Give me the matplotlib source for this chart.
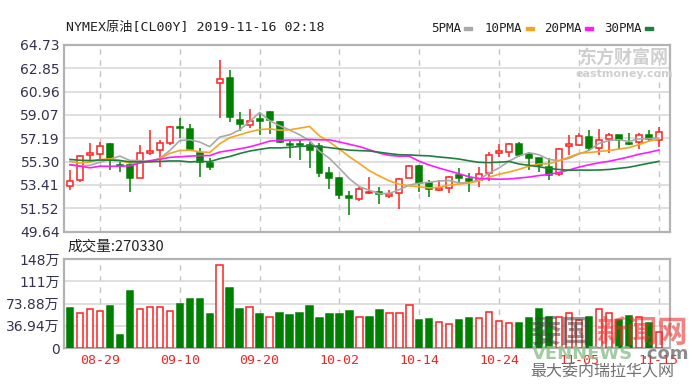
import numpy as np
import pandas as pd
import matplotlib
matplotlib.use('Agg')
import matplotlib.pyplot as plt
from matplotlib.patches import Rectangle

# ---------------------------------------------------------------
# data (NYMEX crude, daily, 2019-08-26 .. 2019-11-15)
dates = ['08-26', '08-27', '08-28', '08-29', '08-30', '09-02', '09-03', '09-04',
         '09-05', '09-06', '09-09', '09-10', '09-11', '09-12', '09-13', '09-16',
         '09-17', '09-18', '09-19', '09-20', '09-23', '09-24', '09-25', '09-26',
         '09-27', '09-30', '10-01', '10-02', '10-03', '10-04', '10-07', '10-08',
         '10-09', '10-10', '10-11', '10-14', '10-15', '10-16', '10-17', '10-18',
         '10-21', '10-22', '10-23', '10-24', '10-25', '10-28', '10-29', '10-30',
         '10-31', '11-01', '11-04', '11-05', '11-06', '11-07', '11-08', '11-11',
         '11-12', '11-13', '11-14', '11-15']

open_p = [53.30, 53.80, 55.85, 55.90, 56.72, 55.06, 55.02, 53.99, 55.96, 56.23,
          56.77, 58.13, 57.93, 55.96, 55.15, 61.63, 62.03, 58.66, 58.25, 58.71,
          59.33, 58.47, 56.70, 56.70, 56.63, 56.55, 54.34, 53.94, 52.51, 52.24,
          52.72, 52.86, 52.51, 52.78, 53.99, 54.94, 53.53, 52.99, 53.13, 54.21,
          53.88, 53.80, 54.34, 56.02, 56.10, 56.69, 55.88, 55.56, 54.88, 54.26,
          56.58, 56.63, 57.31, 56.42, 57.12, 57.45, 56.77, 56.90, 57.45, 57.04]
high_p = [54.61, 55.80, 56.82, 56.90, 56.82, 55.30, 55.42, 56.63, 57.85, 57.04,
          58.20, 58.85, 58.36, 56.37, 55.56, 63.52, 62.71, 59.33, 59.55, 59.20,
          59.41, 58.58, 56.96, 57.04, 56.90, 56.77, 54.88, 54.02, 52.91, 53.26,
          54.05, 53.26, 52.99, 53.94, 55.02, 55.02, 53.80, 53.80, 54.15, 54.75,
          54.34, 54.88, 56.04, 56.69, 56.82, 56.90, 56.04, 55.61, 55.56, 56.37,
          57.45, 57.58, 57.85, 57.93, 57.58, 57.45, 57.64, 57.58, 57.85, 58.12]
low_p = [52.99, 53.65, 55.29, 55.42, 54.61, 54.42, 52.86, 53.93, 55.83, 54.88,
         56.63, 57.23, 56.15, 54.02, 54.61, 58.85, 58.52, 57.77, 58.04, 57.45,
         57.50, 56.77, 55.56, 55.42, 54.80, 54.07, 53.05, 52.24, 50.97, 52.10,
         52.67, 51.83, 52.37, 51.43, 53.94, 52.86, 52.45, 52.91, 52.72, 53.53,
         52.86, 53.26, 53.72, 55.69, 55.69, 55.69, 54.61, 54.42, 53.80, 54.15,
         55.83, 56.55, 56.15, 55.83, 56.00, 56.31, 56.63, 56.31, 56.85, 56.50]
close_p = [53.72, 55.75, 56.00, 56.58, 55.42, 54.96, 53.99, 55.96, 56.15, 56.77,
           58.07, 58.02, 56.31, 55.23, 54.88, 61.98, 58.93, 58.31, 58.58, 58.55,
           58.66, 56.90, 56.63, 56.60, 56.23, 54.34, 53.99, 52.59, 52.37, 53.05,
           52.86, 52.64, 52.70, 53.86, 54.94, 53.59, 53.05, 53.18, 54.07, 53.94,
           53.72, 54.29, 55.83, 56.15, 56.69, 55.83, 55.56, 55.02, 54.21, 56.28,
           56.69, 57.39, 56.42, 57.04, 57.45, 57.04, 56.69, 57.45, 57.12, 57.72]
# closes before the window, only used to start the moving averages
prior_close = [57.62, 56.78, 55.30, 55.63, 56.22, 56.77, 55.88, 56.02, 56.20, 56.87,
               58.05, 58.58, 53.95, 55.66, 54.69, 53.63, 51.09, 52.54, 54.50, 54.93,
               57.10, 55.23, 54.47, 54.87, 56.21, 56.34, 55.68, 55.35, 54.17]
# volume in 万 (10k contracts)
volume = [66.9, 58.6, 64.7, 60.9, 69.2, 22.1, 95.1, 64.7, 68.6, 68.6,
          60.9, 73.6, 81.9, 81.9, 55.9, 138.3, 99.1, 64.7, 68.6, 55.9,
          51.5, 58.6, 54.2, 58.6, 69.2, 49.8, 55.9, 55.9, 60.9, 51.5,
          52.0, 62.5, 58.6, 58.6, 70.8, 45.9, 47.6, 43.2, 40.4, 45.9,
          49.8, 49.2, 60.3, 45.4, 41.0, 41.0, 49.2, 64.2, 50.9, 50.9,
          57.6, 46.5, 50.9, 64.2, 57.6, 46.5, 53.1, 50.9, 41.0, 27.033]

price_ticks = [49.64, 51.52, 53.41, 55.30, 57.19, 59.07, 60.96, 62.85, 64.73]
price_labels = ['49.64', '51.52', '53.41', '55.30', '57.19', '59.07', '60.96', '62.85', '64.73']
vol_ticks = [0, 36.94, 73.88, 110.82, 147.76]
vol_labels = ['0', '36.94万', '73.88万', '111万', '148万']
ma_names = ['5PMA', '10PMA', '20PMA', '30PMA']
ma_windows = [5, 10, 20, 30]
ma_colors = ['#a9a9a9', '#f7a520', '#ff1aff', '#1f7f3f']

RED = '#ff2020'
GREEN = '#008000'
GRID = '#d9d9d9'
FRAME = '#b3b3b3'
LABEL = '#333350'

W, H = 698, 385
n = len(close_p)
x = np.arange(n)

fig = plt.figure(figsize=(W / 100, H / 100), dpi=100)
fig.patch.set_facecolor('white')

def px(x0, y0, x1, y1):
    return [x0 / W, 1 - y1 / H, (x1 - x0) / W, (y1 - y0) / H]

ax = fig.add_axes(px(64, 45, 670, 231.5))
axv = fig.add_axes(px(64, 259, 670, 348))

label_idx = list(range(3, n, 8))

for a in (ax, axv):
    a.set_xlim(-0.6, 60.12)
    for s in a.spines.values():
        s.set_color(FRAME)
        s.set_linewidth(1.6)
    for i in label_idx:
        a.axvline(i, color='#c4c4c4', lw=1, ls=(0, (4, 4)), zorder=0)
    a.tick_params(length=0)

# ---- price panel
ax.set_ylim(price_ticks[0], price_ticks[-1])
ax.set_yticks(price_ticks)
ax.set_yticklabels(price_labels, fontsize=10, color=LABEL, family='DejaVu Sans')
ax.tick_params(axis='y', pad=3)
ax.set_xticks([])
for t in price_ticks[1:-1]:
    ax.axhline(t, color=GRID, lw=1.2, zorder=0)

for i in range(n):
    o, h, l, c = open_p[i], high_p[i], low_p[i], close_p[i]
    up = c >= o
    col = RED if up else GREEN
    ax.vlines(i, l, h, color=col, lw=1.1, zorder=2)
    bh = max(abs(c - o), 0.04)
    ax.add_patch(Rectangle((i - 0.3, min(o, c)), 0.6, bh,
                           facecolor='white' if up else GREEN,
                           edgecolor=col, lw=1.1, zorder=3))

# moving averages
allc = pd.Series(prior_close + close_p)
for name, win, col in zip(ma_names, ma_windows, ma_colors):
    ma = allc.rolling(win).mean().iloc[-n:].values
    ax.plot(x, ma, color=col, lw=1.2, zorder=4)

# ---- volume panel
axv.set_ylim(vol_ticks[0], vol_ticks[-1])
axv.set_yticks(vol_ticks)
axv.set_yticklabels(vol_labels, fontsize=10, color=LABEL,
                    family=['DejaVu Sans', 'Noto Sans CJK SC'])
axv.tick_params(axis='y', pad=3)
for t in vol_ticks[1:-1]:
    axv.axhline(t, color=GRID, lw=1.2, zorder=0)

prev = prior_close[-1]
for i in range(n):
    up = close_p[i] >= prev
    prev = close_p[i]
    col = RED if up else GREEN
    axv.add_patch(Rectangle((i - 0.32, 0), 0.64, volume[i],
                            facecolor='white' if up else GREEN,
                            edgecolor=col, lw=1.1, zorder=3))

axv.set_xticks(label_idx)
axv.set_xticklabels([dates[i] for i in label_idx], fontsize=9.5, color=RED,
                    family='DejaVu Sans Mono')
axv.tick_params(axis='x', pad=4)

# ---- texts
mono = ['DejaVu Sans Mono', 'Noto Sans CJK SC']
fig.text(66 / W, 1 - 28 / H, 'NYMEX原油[CL00Y] 2019-11-16 02:18', family=mono,
         fontsize=9.5, color='#222222', va='center')

leg_x = [431, 485, 544, 604]
for name, lx, col in zip(ma_names, leg_x, ma_colors):
    t = fig.text(lx / W, 1 - 28 / H, name, family='DejaVu Sans Mono',
                 fontsize=9, color='#222222', va='center')
    tw = len(name) * 7.6
    fig.patches.append(Rectangle(((lx + tw + 3) / W, 1 - 30 / H), 8 / W, 3 / H,
                                 transform=fig.transFigure, color=col))

fig.text(67 / W, 1 - 247 / H, '成交量:270330', family=['Noto Sans CJK SC', 'DejaVu Sans'],
         fontsize=10.5, color='#222222', va='center')

# watermarks
fig.text(624 / W, 1 - 57 / H, '东方财富网', family='Noto Sans CJK SC', fontsize=13,
         fontweight='bold', color='#cfcfcf', ha='center', va='center')
fig.text(624 / W, 1 - 74 / H, 'eastmoney.com', family='DejaVu Sans', fontsize=8,
         fontweight='bold', color='#cfcfcf', ha='center', va='center')

fig.text(530 / W, 1 - 333 / H, '委国', family='Noto Sans CJK SC', fontsize=22,
         fontweight='bold', color='#404040', alpha=0.55, va='center')
fig.text(596 / W, 1 - 333 / H, '新闻网', family='Noto Sans CJK SC', fontsize=22,
         fontweight='bold', color='#e83030', alpha=0.6, va='center')
fig.text(532 / W, 1 - 354 / H, 'VENNEWS', family='DejaVu Sans', fontsize=13,
         fontweight='bold', color='#8cc08c', alpha=0.8, va='center')
fig.text(640 / W, 1 - 354 / H, '.com', family='DejaVu Sans', fontsize=13,
         fontweight='bold', color='#707070', alpha=0.8, va='center')
fig.text(530 / W, 1 - 372 / H, '最大委内瑞拉华人网', family='Noto Sans CJK SC',
         fontsize=11.5, color='#707070', va='center')

plt.savefig('out.png', dpi=100)
